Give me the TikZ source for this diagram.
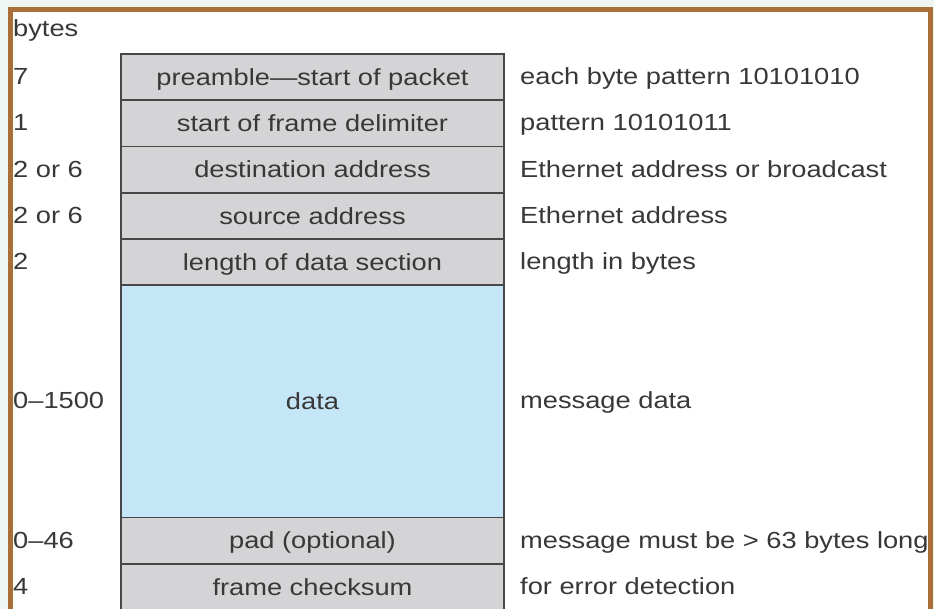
\documentclass[tikz,border=0pt]{standalone}
\usepackage{fontspec}
\setmainfont[FakeStretch=1.17]{Liberation Sans}
\begin{document}
\begin{tikzpicture}[x=1pt,y=-1pt,
  every node/.style={font=\fontsize{23.3}{27}\selectfont, text=black!78, text height=16.7pt, text depth=0pt, inner sep=0pt},
  field/.style={draw=black!72, line width=1.8pt, fill=fieldgray, minimum width=383pt, minimum height=46.3pt, anchor=north},
  datafield/.style={field, fill=databue, minimum height=232pt},
  sizelbl/.style={anchor=west},
  notelbl/.style={anchor=west}
]
\definecolor{fieldgray}{RGB}{212,212,214}
\definecolor{databue}{RGB}{197,230,247}
\definecolor{framebrown}{RGB}{170,110,55}
\definecolor{outside}{RGB}{238,245,242}
\useasboundingbox (0,0) rectangle (934,609);
\fill[outside] (0,0) rectangle (934,609);
\fill[white] (10,10) rectangle (930,640);
\begin{scope}
\clip (0,0) rectangle (934,609);
\draw[framebrown, line width=5pt] (10,10) rectangle (930,640);
\end{scope}

\node[anchor=west] (bytes) at (13,28) {bytes};

% fields
\node[field] (f1) at (312.5,53) {preamble—start of packet};
\node[field] (f2) at (312.5,99.3) {start of frame delimiter};
\node[field] (f3) at (312.5,145.6) {destination address};
\node[field] (f4) at (312.5,191.9) {source address};
\node[field] (f5) at (312.5,238.2) {length of data section};
\node[datafield] (f6) at (312.5,284.5) {data};
\node[field] (f7) at (312.5,516.5) {pad (optional)};
\node[field] (f8) at (312.5,562.8) {frame checksum};

% sizes
\node[sizelbl] (s1) at (13,76.2) {7};
\node[sizelbl] (s2) at (13,122.5) {1};
\node[sizelbl] (s3) at (13,168.8) {2 or 6};
\node[sizelbl] (s4) at (13,215.1) {2 or 6};
\node[sizelbl] (s5) at (13,261.4) {2};
\node[sizelbl] (s6) at (13,400.5) {0–1500};
\node[sizelbl] (s7) at (13,539.7) {0–46};
\node[sizelbl] (s8) at (13,586) {4};

% notes
\begin{scope}
\clip (0,0) rectangle (926,609);
\node[notelbl] (n1) at (520,76.2) {each byte pattern 10101010};
\node[notelbl] (n2) at (520,122.5) {pattern 10101011};
\node[notelbl] (n3) at (520,168.8) {Ethernet address or broadcast};
\node[notelbl] (n4) at (520,215.1) {Ethernet address};
\node[notelbl] (n5) at (520,261.4) {length in bytes};
\node[notelbl] (n6) at (520,400.5) {message data};
\node[notelbl] (n7) at (520,539.7) {message must be > 63 bytes long};
\node[notelbl] (n8) at (520,586) {for error detection};
\end{scope}
\end{tikzpicture}
\end{document}
